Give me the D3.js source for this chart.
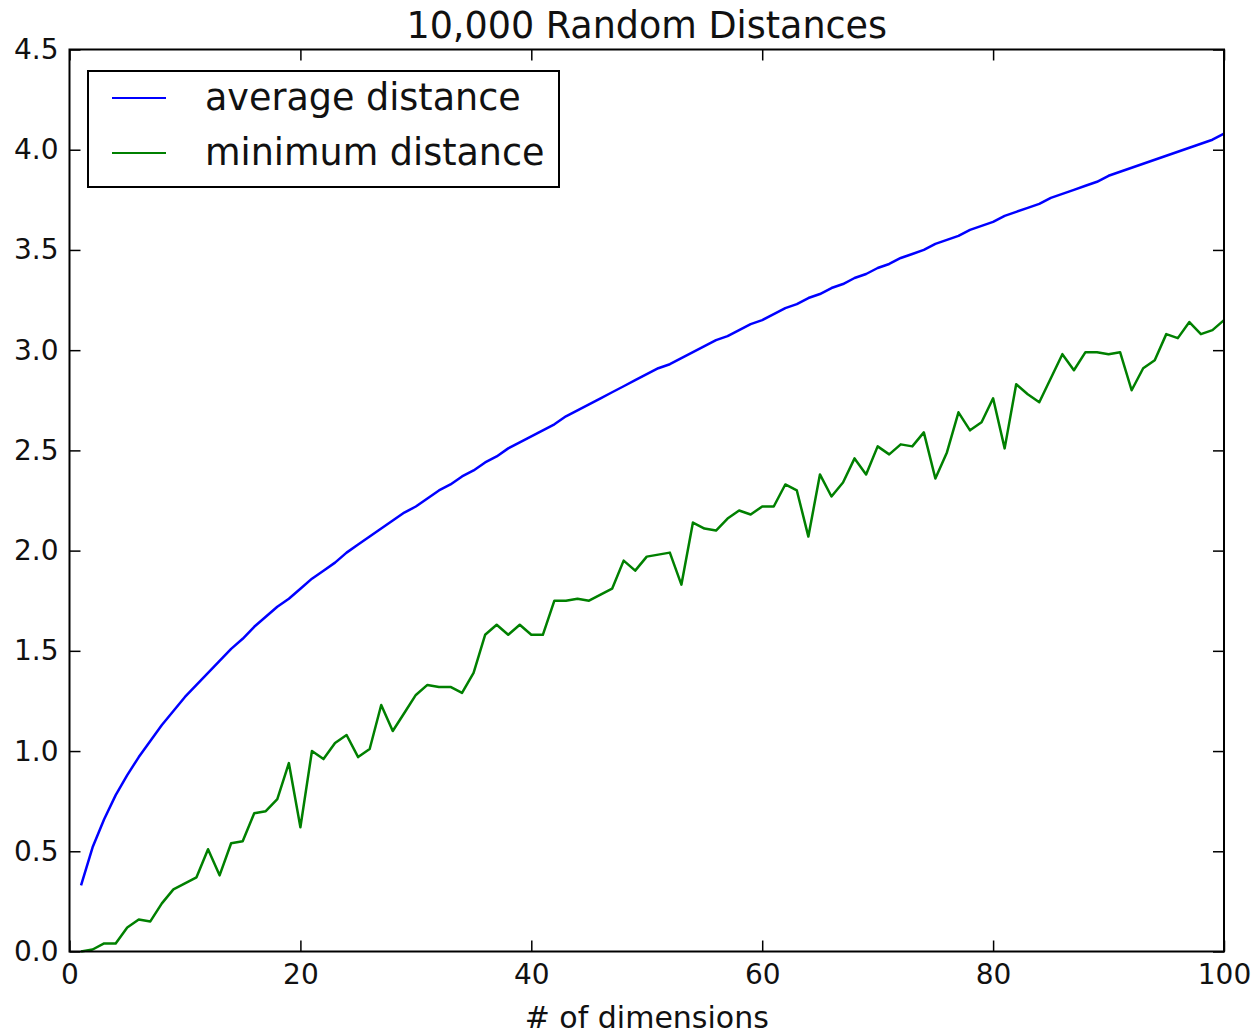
<!DOCTYPE html>
<html>
<head>
<meta charset="utf-8">
<script src="https://cdn.jsdelivr.net/npm/d3@7"></script>
<style>
  html, body { margin: 0; padding: 0; background: #fff; }
  svg { display: block; font-family: "DejaVu Sans", sans-serif; }
</style>
</head>
<body>
<svg id="chart" width="1260" height="1035"></svg>
<script>
const title = "10,000 Random Distances";
const xLabel = "# of dimensions";
const seriesNames = ["average distance", "minimum distance"];
const seriesColors = ["#0000ff", "#008000"];

const dimensions = d3.range(1, 101);

const averageDistance = [
  0.33, 0.52, 0.66, 0.78, 0.88, 0.97, 1.05, 1.13, 1.20, 1.27,
  1.33, 1.39, 1.45, 1.51, 1.56, 1.62, 1.67, 1.72, 1.76, 1.81,
  1.86, 1.90, 1.94, 1.99, 2.03, 2.07, 2.11, 2.15, 2.19, 2.22,
  2.26, 2.30, 2.33, 2.37, 2.40, 2.44, 2.47, 2.51, 2.54, 2.57,
  2.60, 2.63, 2.67, 2.70, 2.73, 2.76, 2.79, 2.82, 2.85, 2.88,
  2.91, 2.93, 2.96, 2.99, 3.02, 3.05, 3.07, 3.10, 3.13, 3.15,
  3.18, 3.21, 3.23, 3.26, 3.28, 3.31, 3.33, 3.36, 3.38, 3.41,
  3.43, 3.46, 3.48, 3.50, 3.53, 3.55, 3.57, 3.60, 3.62, 3.64,
  3.67, 3.69, 3.71, 3.73, 3.76, 3.78, 3.80, 3.82, 3.84, 3.87,
  3.89, 3.91, 3.93, 3.95, 3.97, 3.99, 4.01, 4.03, 4.05, 4.08
];

const minimumDistance = [
  0.00, 0.01, 0.04, 0.04, 0.12, 0.16, 0.15, 0.24, 0.31, 0.34,
  0.37, 0.51, 0.38, 0.54, 0.55, 0.69, 0.70, 0.76, 0.94, 0.62,
  1.00, 0.96, 1.04, 1.08, 0.97, 1.01, 1.23, 1.10, 1.19, 1.28,
  1.33, 1.32, 1.32, 1.29, 1.39, 1.58, 1.63, 1.58, 1.63, 1.58,
  1.58, 1.75, 1.75, 1.76, 1.75, 1.78, 1.81, 1.95, 1.90, 1.97,
  1.98, 1.99, 1.83, 2.14, 2.11, 2.10, 2.16, 2.20, 2.18, 2.22,
  2.22, 2.33, 2.30, 2.07, 2.38, 2.27, 2.34, 2.46, 2.38, 2.52,
  2.48, 2.53, 2.52, 2.59, 2.36, 2.49, 2.69, 2.60, 2.64, 2.76,
  2.51, 2.83, 2.78, 2.74, 2.86, 2.98, 2.90, 2.99, 2.99, 2.98,
  2.99, 2.80, 2.91, 2.95, 3.08, 3.06, 3.14, 3.08, 3.10, 3.15
];

const xTicks = [0, 20, 40, 60, 80, 100];
const yTicks = [0.0, 0.5, 1.0, 1.5, 2.0, 2.5, 3.0, 3.5, 4.0, 4.5];

const svg = d3.select("#chart");
const pLeft = 69.5, pRight = 1224, pTop = 49.5, pBottom = 951.5;

const x = d3.scaleLinear().domain([0, 100]).range([pLeft, pRight]);
const y = d3.scaleLinear().domain([0, 4.5]).range([pBottom, pTop]);

const tickLen = 11;
const tickFont = "28px";

const gB = svg.append("g").attr("transform", `translate(0,${pBottom})`)
  .call(d3.axisBottom(x).tickValues(xTicks).tickSizeInner(-tickLen).tickSizeOuter(0).tickPadding(13).tickFormat(d3.format("d")));
const gT = svg.append("g").attr("transform", `translate(0,${pTop})`)
  .call(d3.axisTop(x).tickValues(xTicks).tickSizeInner(-tickLen).tickSizeOuter(0).tickFormat(""));
const gL = svg.append("g").attr("transform", `translate(${pLeft},0)`)
  .call(d3.axisLeft(y).tickValues(yTicks).tickSizeInner(-tickLen).tickSizeOuter(0).tickPadding(11).tickFormat(d3.format(".1f")));
const gR = svg.append("g").attr("transform", `translate(${pRight},0)`)
  .call(d3.axisRight(y).tickValues(yTicks).tickSizeInner(-tickLen).tickSizeOuter(0).tickFormat(""));

[gB, gT, gL, gR].forEach(g => {
  g.select(".domain").remove();
  g.selectAll(".tick line").attr("stroke", "#000").attr("stroke-width", 1.5);
  g.selectAll(".tick text").attr("fill", "#111").style("font-size", tickFont).style("font-family", "DejaVu Sans");
});
gB.selectAll(".tick text").attr("dy", "0.71em");

const line = d3.line().x((d, i) => x(dimensions[i])).y(d => y(d));
[averageDistance, minimumDistance].forEach((s, k) => {
  svg.append("path").datum(s).attr("d", line)
    .attr("fill", "none").attr("stroke", seriesColors[k]).attr("stroke-width", 2.5)
    .attr("stroke-linejoin", "round");
});

svg.append("rect").attr("x", pLeft).attr("y", pTop)
  .attr("width", pRight - pLeft).attr("height", pBottom - pTop)
  .attr("fill", "none").attr("stroke", "#000").attr("stroke-width", 2);

svg.append("text").attr("x", (pLeft + pRight) / 2).attr("y", 38)
  .attr("text-anchor", "middle").style("font-size", "36.5px").attr("fill", "#111").text(title);

svg.append("text").attr("x", (pLeft + pRight) / 2).attr("y", 1028)
  .attr("text-anchor", "middle").style("font-size", "30px").attr("fill", "#111").text(xLabel);

const lg = svg.append("g");
lg.append("rect").attr("x", 88).attr("y", 71).attr("width", 471).attr("height", 116)
  .attr("fill", "#fff").attr("stroke", "#000").attr("stroke-width", 2);
seriesNames.forEach((name, i) => {
  const cy = 98 + i * 55;
  lg.append("line").attr("x1", 112).attr("x2", 166).attr("y1", cy).attr("y2", cy)
    .attr("stroke", seriesColors[i]).attr("stroke-width", 2);
  lg.append("text").attr("x", 205).attr("y", cy + 12).style("font-size", "36.5px")
    .attr("fill", "#111").text(name);
});
</script>
</body>
</html>
